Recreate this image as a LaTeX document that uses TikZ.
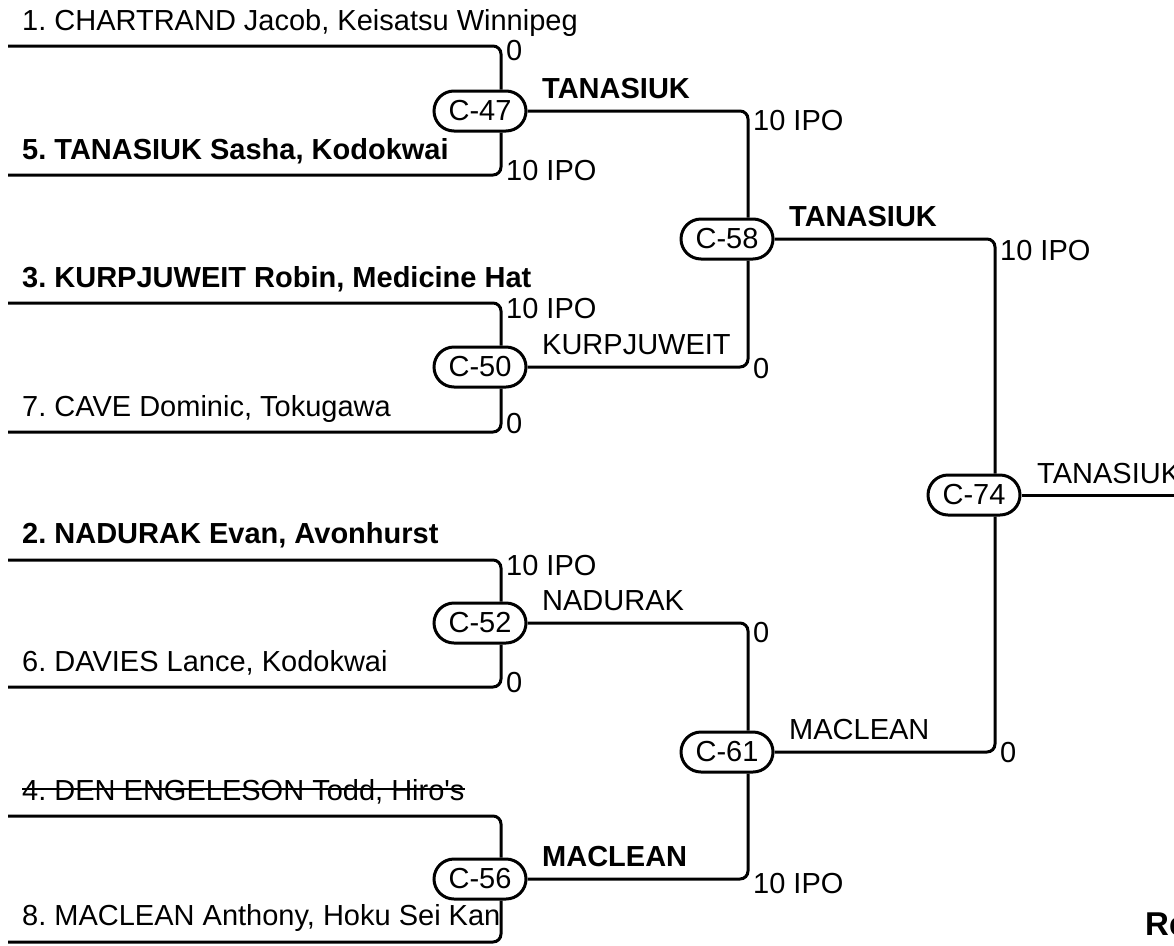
\documentclass[tikz,border=0pt]{standalone}
\usepackage{fontspec}
\setmainfont{Liberation Sans}
\usetikzlibrary{positioning}
\frenchspacing

\tikzset{
  match/.style={draw, line width=3pt, rounded corners=20pt, minimum width=92pt, minimum height=40pt, inner sep=0pt},
  wire/.style={line width=3pt, rounded corners=8pt},
  lbl/.style={anchor=base west, inner sep=0pt}
}

\begin{document}
\begin{tikzpicture}[x=1pt, y=-1pt, font=\fontsize{29}{34}\selectfont]
  \useasboundingbox (0,0) rectangle (1174,945);
  % matches
  \node[match] (m47) at (480,111) {C-47};
  \node[match] (m50) at (480,367) {C-50};
  \node[match] (m52) at (480,623) {C-52};
  \node[match] (m56) at (480,879) {C-56};
  \node[match] (m58) at (727,239) {C-58};
  \node[match] (m61) at (727,752) {C-61};
  \node[match] (m74) at (974,495) {C-74};
  % line starts
  \coordinate (p1) at (8,46);
  \coordinate (p5) at (8,175);
  \coordinate (p3) at (8,303);
  \coordinate (p7) at (8,432);
  \coordinate (p2) at (8,560);
  \coordinate (p6) at (8,687);
  \coordinate (p4) at (8,816);
  \coordinate (p8) at (8,942);
  \coordinate (fin) at (1174,495);
  % players
  \node[lbl] (n1) at (22,30) {1. CHARTRAND Jacob, Keisatsu Winnipeg};
  \node[lbl] (n5) at (22,159) {\textbf{5. TANASIUK Sasha, Kodokwai}};
  \node[lbl] (n3) at (22,287) {\textbf{3. KURPJUWEIT Robin, Medicine Hat}};
  \node[lbl] (n7) at (22,416) {7. CAVE Dominic, Tokugawa};
  \node[lbl] (n2) at (22,543) {\textbf{2. NADURAK Evan, Avonhurst}};
  \node[lbl] (n6) at (22,671) {6. DAVIES Lance, Kodokwai};
  \node[lbl] (n4) at (22,800) {4. DEN ENGELESON Todd, Hiro\textquotesingle s};
  \node[lbl] (n8) at (22,925) {8. MACLEAN Anthony, Hoku Sei Kan};
  \draw[line width=2pt] ([yshift=11pt]n4.base west) -- ([yshift=11pt]n4.base east);
  % connectors
  \draw[wire] (p1) -| ([xshift=21pt]m47.north);
  \draw[wire] (p5) -| ([xshift=21pt]m47.south);
  \draw[wire] (p3) -| ([xshift=21pt]m50.north);
  \draw[wire] (p7) -| ([xshift=21pt]m50.south);
  \draw[wire] (p2) -| ([xshift=21pt]m52.north);
  \draw[wire] (p6) -| ([xshift=21pt]m52.south);
  \draw[wire] (p4) -| ([xshift=21pt]m56.north);
  \draw[wire] (p8) -| ([xshift=21pt]m56.south);
  \draw[wire] (m47.east) -| ([xshift=21pt]m58.north);
  \draw[wire] (m50.east) -| ([xshift=21pt]m58.south);
  \draw[wire] (m52.east) -| ([xshift=21pt]m61.north);
  \draw[wire] (m56.east) -| ([xshift=21pt]m61.south);
  \draw[wire] (m58.east) -| ([xshift=21pt]m74.north);
  \draw[wire] (m61.east) -| ([xshift=21pt]m74.south);
  \draw[wire] (m74.east) -- (fin);
  % scores
  \node[lbl] (s1) at (506,60) {0};
  \node[lbl] (s5) at (506,180) {10 IPO};
  \node[lbl] (s3) at (506,318) {10 IPO};
  \node[lbl] (s7) at (506,433) {0};
  \node[lbl] (s2) at (506,575) {10 IPO};
  \node[lbl] (s6) at (506,692) {0};
  \node[lbl] (s47) at (753,130) {10 IPO};
  \node[lbl] (s50) at (753,378) {0};
  \node[lbl] (s52) at (753,642) {0};
  \node[lbl] (s56) at (753,893) {10 IPO};
  \node[lbl] (s58) at (1000,260) {10 IPO};
  \node[lbl] (s61) at (1000,762) {0};
  % winners
  \node[lbl] (w47) at (542,98) {\textbf{TANASIUK}};
  \node[lbl] (w50) at (542,354) {KURPJUWEIT};
  \node[lbl] (w52) at (542,610) {NADURAK};
  \node[lbl] (w56) at (542,866) {\textbf{MACLEAN}};
  \node[lbl] (w58) at (789,226) {\textbf{TANASIUK}};
  \node[lbl] (w61) at (789,739) {MACLEAN};
  \node[lbl] (w74) at (1037,483) {TANASIUK};
  \node[lbl, font=\fontsize{33}{38}\selectfont\bfseries] (res) at (1145,935) {Re};
\end{tikzpicture}
\end{document}
